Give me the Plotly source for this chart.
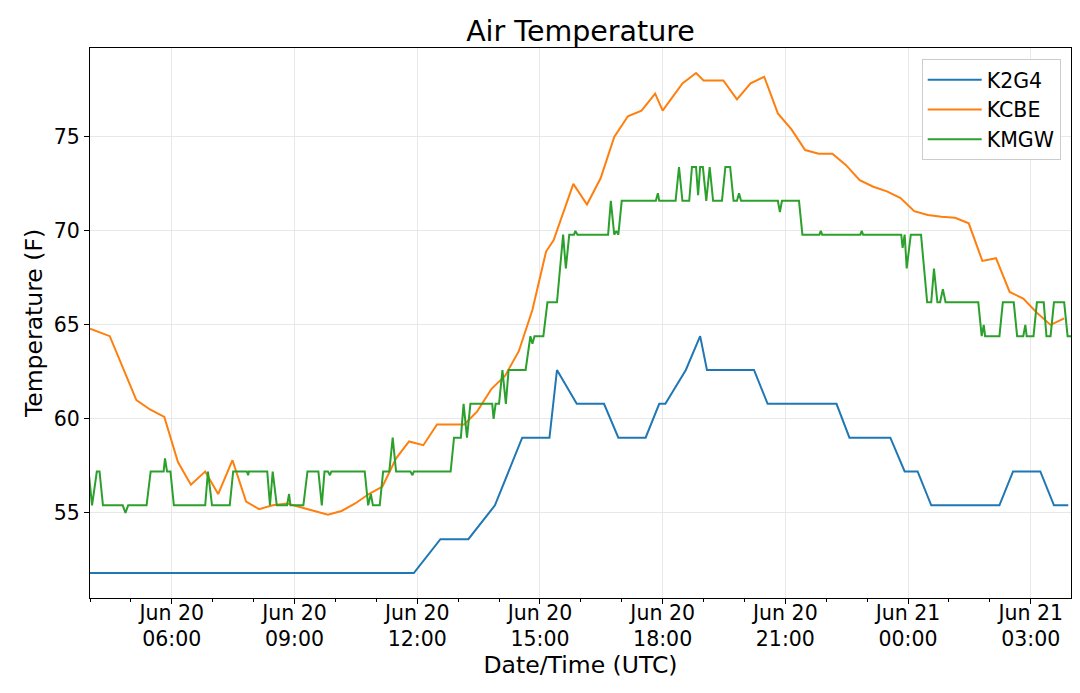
import pandas as pd
import plotly.graph_objects as go

# Observation times (UTC) start on Jun 20 2019; a time earlier than the previous one rolls into Jun 21
start_day = "2019-06-20"

k2g4_times = ['04:00', '11:55', '12:34', '13:15', '13:54', '14:34', '15:14', '15:25', '15:54',
              '16:34', '16:55', '17:35', '17:55', '18:04', '18:34', '18:55', '19:05', '20:14',
              '20:34', '22:15', '22:34', '23:34', '23:55', '00:14', '00:34', '02:14', '02:34',
              '03:14', '03:34', '03:55']
k2g4_temps = [51.8, 51.8, 53.6, 53.6, 55.4, 59.0, 59.0, 62.6, 60.8,
              60.8, 59.0, 59.0, 60.8, 60.8, 62.6, 64.4, 62.6, 62.6,
              60.8, 60.8, 59.0, 59.0, 57.2, 57.2, 55.4, 55.4, 57.2,
              57.2, 55.4, 55.4]

kcbe_times = ['04:00', '04:29', '05:08', '05:28', '05:49', '06:09', '06:28', '06:49', '07:08',
              '07:29', '07:49', '08:08', '08:28', '08:49', '09:09', '09:29', '09:49', '10:09',
              '10:29', '10:49', '11:09', '11:29', '11:48', '12:09', '12:29', '12:49', '13:09',
              '13:28', '13:49', '14:09', '14:29', '14:49', '15:09', '15:20', '15:49', '16:09',
              '16:29', '16:49', '17:09', '17:29', '17:49', '18:00', '18:29', '18:49', '19:00',
              '19:29', '19:49', '20:09', '20:29', '20:49', '21:09', '21:29', '21:49', '22:09',
              '22:29', '22:49', '23:09', '23:29', '23:49', '00:09', '00:29', '00:49', '01:09',
              '01:29', '01:49', '02:09', '02:29', '02:49', '03:09', '03:29', '03:49']
kcbe_temps = [64.8, 64.4, 61.0, 60.5, 60.1, 57.7, 56.5, 57.2, 56.0,
              57.8, 55.6, 55.2, 55.4, 55.5, 55.3, 55.1, 54.9, 55.1,
              55.5, 56.0, 56.4, 57.9, 58.8, 58.6, 59.7, 59.7, 59.7,
              60.4, 61.6, 62.3, 63.6, 65.8, 68.9, 69.5, 72.5, 71.4,
              72.8, 75.0, 76.1, 76.4, 77.3, 76.4, 77.85, 78.4, 78.0,
              78.0, 77.0, 77.85, 78.2, 76.25, 75.4, 74.3, 74.1, 74.1,
              73.5, 72.7, 72.35, 72.1, 71.75, 71.05, 70.85, 70.75, 70.7,
              70.4, 68.4, 68.55, 66.75, 66.4, 65.65, 65.0, 65.35]

kmgw_times = ['03:58', '04:03', '04:10', '04:14', '04:19', '04:48', '04:52', '04:56', '05:23',
              '05:29', '05:48', '05:50', '05:53', '05:58', '06:03', '06:49', '06:53', '06:59',
              '07:25', '07:30', '07:50', '07:52', '07:53', '08:20', '08:24', '08:28', '08:34',
              '08:49', '08:52', '08:54', '09:13', '09:19', '09:35', '09:40', '09:44', '09:49',
              '09:52', '09:54', '10:43', '10:48', '10:52', '10:55', '11:05', '11:10', '11:19',
              '11:24', '11:29', '11:50', '11:53', '11:55', '12:49', '12:54', '13:04', '13:08',
              '13:13', '13:18', '13:50', '13:52', '13:55', '14:00', '14:05', '14:10', '14:14',
              '14:39', '14:46', '14:49', '14:52', '15:05', '15:11', '15:25', '15:34', '15:38',
              '15:43', '15:50', '15:52', '15:55', '16:40', '16:44', '16:49', '16:52', '16:55',
              '17:00', '17:50', '17:53', '17:55', '18:19', '18:24', '18:29', '18:39', '18:43',
              '18:49', '18:52', '18:55', '18:59', '19:04', '19:09', '19:14', '19:27', '19:32',
              '19:39', '19:44', '19:49', '19:52', '19:55', '20:49', '20:52', '20:55', '21:20',
              '21:25', '21:50', '21:52', '21:54', '22:50', '22:52', '22:54', '23:50', '23:52',
              '23:55', '23:58', '00:04', '00:19', '00:28', '00:34', '00:38', '00:43', '00:47',
              '00:51', '00:55', '01:43', '01:48', '01:51', '01:53', '02:14', '02:19', '02:35',
              '02:40', '02:49', '02:52', '02:54', '03:04', '03:09', '03:19', '03:23', '03:29',
              '03:34', '03:49', '03:54', '03:59']
kmgw_temps = [57.2, 55.4, 57.2, 57.2, 55.4, 55.4, 55.0, 55.4, 55.4,
              57.2, 57.2, 57.9, 57.2, 57.2, 55.4, 55.4, 57.2, 55.4,
              55.4, 57.2, 57.2, 57.0, 57.2, 57.2, 55.4, 57.2, 55.4,
              55.4, 56.0, 55.4, 55.4, 57.2, 57.2, 55.4, 57.2, 57.2,
              57.0, 57.2, 57.2, 55.4, 56.0, 55.4, 55.4, 57.2, 57.2,
              59.0, 57.2, 57.2, 57.0, 57.2, 57.2, 59.0, 59.0, 60.8,
              59.0, 60.8, 60.8, 60.0, 60.8, 60.8, 62.6, 60.8, 62.6,
              62.6, 64.4, 64.0, 64.4, 64.4, 66.2, 66.2, 69.8, 68.0,
              69.8, 69.8, 70.0, 69.8, 69.8, 71.6, 69.8, 70.0, 69.8,
              71.6, 71.6, 72.0, 71.6, 71.6, 73.4, 71.6, 71.6, 73.4,
              73.4, 71.9, 73.4, 73.4, 71.6, 73.4, 71.6, 71.6, 73.4,
              73.4, 71.6, 71.6, 72.0, 71.6, 71.6, 71.0, 71.6, 71.6,
              69.8, 69.8, 70.0, 69.8, 69.8, 70.0, 69.8, 69.8, 69.1,
              69.8, 68.0, 69.8, 69.8, 66.2, 66.2, 68.0, 66.2, 66.2,
              66.9, 66.2, 66.2, 64.4, 65.0, 64.4, 64.4, 66.2, 66.2,
              64.4, 64.4, 65.0, 64.4, 64.4, 66.2, 66.2, 64.4, 64.4,
              66.2, 66.2, 64.4, 64.4]

stations = ['K2G4', 'KCBE', 'KMGW']
colors = ['#1f77b4', '#ff7f0e', '#2ca02c']


def to_datetimes(times):
    day = pd.Timestamp(start_day)
    out = []
    prev = None
    for t in times:
        if prev is not None and t < prev:
            day = day + pd.Timedelta(days=1)
        out.append(day + pd.Timedelta(t + ':00'))
        prev = t
    return out


series = [(k2g4_times, k2g4_temps), (kcbe_times, kcbe_temps), (kmgw_times, kmgw_temps)]

fig = go.Figure()
for name, color, (times, temps) in zip(stations, colors, series):
    fig.add_trace(go.Scatter(x=to_datetimes(times), y=temps, mode='lines', name=name,
                             line=dict(color=color, width=2)))

# x limits: first KCBE observation to last KMGW observation
x0 = to_datetimes(kcbe_times)[0]
x1 = to_datetimes(kmgw_times)[-1]

# y limits like matplotlib autoscale (5% margin)
all_temps = k2g4_temps + kcbe_temps + kmgw_temps
pad = 0.05 * (max(all_temps) - min(all_temps))
y0, y1 = min(all_temps) - pad, max(all_temps) + pad

font_family = "DejaVu Sans"

fig.update_layout(
    width=1080,
    height=693,
    margin=dict(l=90, r=9, t=48, b=95, autoexpand=False),
    paper_bgcolor='white',
    plot_bgcolor='white',
    font=dict(family=font_family, size=20.5, color='black'),
    title=dict(text='Air Temperature', x=0.5, xref='paper', y=1 - 31 / 693,
               yref='container', yanchor='middle', font=dict(size=28.5, color='black')),
    legend=dict(x=0.9895, y=0.98, xanchor='right', yanchor='top', bgcolor='white',
                bordercolor='#cccccc', borderwidth=1, font=dict(size=20.5),
                itemwidth=54, tracegroupgap=0),
    showlegend=True,
)

fig.update_xaxes(
    type='date', range=[x0, x1], automargin=False,
    showline=True, linecolor='black', linewidth=1.2, mirror=True,
    ticks='outside', ticklen=5, tickcolor='black',
    showgrid=True, gridcolor='#e8e8e8', gridwidth=1,
    tick0='2019-06-20 00:00', dtick=3 * 3600000, tickformat='%b %d<br>%H:%M',
    ticklabelstandoff=-9,
    minor=dict(dtick=3600000, ticks='outside', ticklen=3, tickcolor='black', showgrid=False),
    title=dict(text='Date/Time (UTC)', font=dict(size=23.5), standoff=2),
    zeroline=False,
)
fig.update_yaxes(
    range=[y0, y1], automargin=False,
    showline=True, linecolor='black', linewidth=1.2, mirror=True,
    ticks='outside', ticklen=5, tickcolor='black',
    showgrid=True, gridcolor='#e8e8e8', gridwidth=1,
    tick0=0, dtick=5,
    title=dict(text='Temperature (F)', font=dict(size=23.5), standoff=4),
    zeroline=False,
)

fig.write_html("out.html", config={'displayModeBar': False},
               post_script="document.body.style.margin='0';")
